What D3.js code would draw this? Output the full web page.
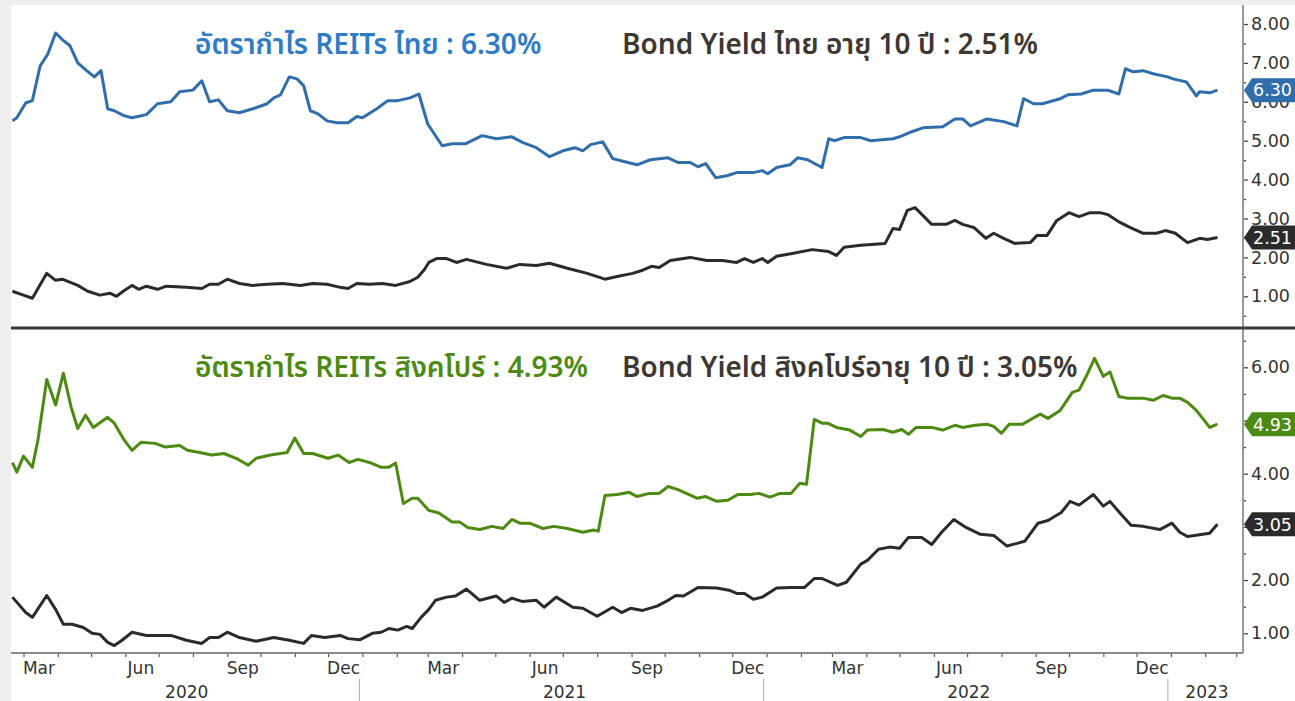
<!DOCTYPE html>
<html>
<head>
<meta charset="utf-8">
<script src="https://cdn.jsdelivr.net/npm/d3@7"></script>
<style>
  body { margin: 0; background: #eeeeee; }
  svg { display: block; }
</style>
</head>
<body>
<svg id="chart" width="1295" height="701"></svg>
<script>
// อัตรากำไร REITs ไทย (%)
const thaiReit = [
  ["2020-02-20",5.51],["2020-02-24",5.59],["2020-03-03",5.97],["2020-03-09",6.03],["2020-03-16",6.92],
  ["2020-03-23",7.23],["2020-03-30",7.77],["2020-04-05",7.60],["2020-04-12",7.44],["2020-04-19",7.00],
  ["2020-04-27",6.80],["2020-05-04",6.64],["2020-05-10",6.80],["2020-05-16",5.82],["2020-05-22",5.77],
  ["2020-05-31",5.64],["2020-06-07",5.59],["2020-06-20",5.67],["2020-06-30",5.95],["2020-07-12",6.00],
  ["2020-07-20",6.26],["2020-08-01",6.30],["2020-08-09",6.54],["2020-08-16",6.00],["2020-08-24",6.05],
  ["2020-09-01",5.77],["2020-09-12",5.72],["2020-09-24",5.82],["2020-10-07",5.95],["2020-10-13",6.10],
  ["2020-10-19",6.18],["2020-10-27",6.64],["2020-11-03",6.59],["2020-11-09",6.41],["2020-11-15",5.77],
  ["2020-11-22",5.69],["2020-11-30",5.51],["2020-12-09",5.46],["2020-12-19",5.46],["2020-12-27",5.62],
  ["2021-01-01",5.59],["2021-01-14",5.82],["2021-01-24",6.03],["2021-02-02",6.03],["2021-02-13",6.10],
  ["2021-02-21",6.20],["2021-03-01",5.43],["2021-03-14",4.87],["2021-03-23",4.92],["2021-04-04",4.92],
  ["2021-04-19",5.13],["2021-05-02",5.05],["2021-05-16",5.10],["2021-05-26",4.95],["2021-06-07",4.82],
  ["2021-06-19",4.59],["2021-07-01",4.74],["2021-07-12",4.82],["2021-07-19",4.74],["2021-07-26",4.90],
  ["2021-08-06",4.97],["2021-08-15",4.54],["2021-08-26",4.46],["2021-09-06",4.38],["2021-09-18",4.51],
  ["2021-10-04",4.56],["2021-10-13",4.44],["2021-10-24",4.44],["2021-10-31",4.33],["2021-11-07",4.41],
  ["2021-11-16",4.05],["2021-11-26",4.10],["2021-12-05",4.18],["2021-12-20",4.18],["2021-12-28",4.23],
  ["2022-01-02",4.15],["2022-01-10",4.31],["2022-01-22",4.38],["2022-01-29",4.56],["2022-02-07",4.51],
  ["2022-02-20",4.31],["2022-02-26",5.05],["2022-03-03",5.00],["2022-03-12",5.08],["2022-03-27",5.08],
  ["2022-04-05",5.00],["2022-04-25",5.05],["2022-05-01",5.10],["2022-05-10",5.21],["2022-05-22",5.33],
  ["2022-06-09",5.36],["2022-06-20",5.56],["2022-06-27",5.56],["2022-07-04",5.38],["2022-07-19",5.56],
  ["2022-08-03",5.49],["2022-08-15",5.38],["2022-08-21",6.08],["2022-08-30",5.95],["2022-09-07",5.95],
  ["2022-09-23",6.08],["2022-09-30",6.18],["2022-10-12",6.20],["2022-10-23",6.30],["2022-11-05",6.30],
  ["2022-11-15",6.20],["2022-11-21",6.85],["2022-11-28",6.77],["2022-12-07",6.80],["2022-12-16",6.72],
  ["2022-12-29",6.64],["2023-01-03",6.59],["2023-01-15",6.51],["2023-01-24",6.15],["2023-01-27",6.26],
  ["2023-02-05",6.23],["2023-02-12",6.30]
];

// Bond Yield ไทย อายุ 10 ปี (%)
const thaiBond = [
  ["2020-02-20",1.13],["2020-03-01",1.03],["2020-03-09",0.95],["2020-03-22",1.59],["2020-03-30",1.41],
  ["2020-04-05",1.44],["2020-04-19",1.28],["2020-04-28",1.13],["2020-05-09",1.03],["2020-05-18",1.08],
  ["2020-05-24",1.00],["2020-05-31",1.15],["2020-06-07",1.28],["2020-06-13",1.18],["2020-06-20",1.26],
  ["2020-06-30",1.18],["2020-07-08",1.26],["2020-07-26",1.23],["2020-08-09",1.20],["2020-08-16",1.31],
  ["2020-08-24",1.31],["2020-09-01",1.44],["2020-09-12",1.33],["2020-09-24",1.28],["2020-10-07",1.31],
  ["2020-10-21",1.33],["2020-11-06",1.28],["2020-11-17",1.33],["2020-11-30",1.31],["2020-12-12",1.23],
  ["2020-12-19",1.20],["2020-12-27",1.33],["2021-01-07",1.31],["2021-01-19",1.33],["2021-01-31",1.28],
  ["2021-02-13",1.38],["2021-02-20",1.49],["2021-02-26",1.69],["2021-03-02",1.87],["2021-03-09",1.97],
  ["2021-03-18",1.97],["2021-03-27",1.87],["2021-04-05",1.95],["2021-04-23",1.82],["2021-05-11",1.72],
  ["2021-05-23",1.82],["2021-06-07",1.79],["2021-06-19",1.85],["2021-07-05",1.72],["2021-07-23",1.59],
  ["2021-08-08",1.44],["2021-08-19",1.51],["2021-09-02",1.59],["2021-09-11",1.67],["2021-09-19",1.77],
  ["2021-09-26",1.74],["2021-10-06",1.92],["2021-10-24",2.00],["2021-11-08",1.92],["2021-11-22",1.92],
  ["2021-12-05",1.87],["2021-12-12",1.97],["2021-12-20",1.87],["2021-12-28",1.97],["2022-01-02",1.87],
  ["2022-01-10",2.03],["2022-01-24",2.10],["2022-02-11",2.20],["2022-02-26",2.15],["2022-03-05",2.05],
  ["2022-03-12",2.26],["2022-03-27",2.31],["2022-04-18",2.36],["2022-04-25",2.74],["2022-05-01",2.72],
  ["2022-05-08",3.21],["2022-05-15",3.28],["2022-05-22",3.08],["2022-05-30",2.85],["2022-06-12",2.85],
  ["2022-06-20",2.95],["2022-06-27",2.85],["2022-07-07",2.77],["2022-07-18",2.49],["2022-07-25",2.62],
  ["2022-08-03",2.49],["2022-08-13",2.36],["2022-08-27",2.38],["2022-09-02",2.56],["2022-09-11",2.56],
  ["2022-09-20",2.95],["2022-10-01",3.15],["2022-10-10",3.05],["2022-10-20",3.15],["2022-10-29",3.15],
  ["2022-11-05",3.10],["2022-11-16",2.90],["2022-11-25",2.77],["2022-12-07",2.62],["2022-12-19",2.62],
  ["2022-12-27",2.69],["2023-01-05",2.62],["2023-01-16",2.38],["2023-01-27",2.49],["2023-02-03",2.46],
  ["2023-02-12",2.51]
];

// อัตรากำไร REITs สิงคโปร์ (%)
const sgReit = [
  ["2020-02-20",4.21],["2020-02-24",4.03],["2020-03-01",4.33],["2020-03-09",4.12],["2020-03-14",4.63],
  ["2020-03-22",5.77],["2020-03-30",5.29],["2020-04-06",5.89],["2020-04-13",5.25],["2020-04-19",4.85],
  ["2020-04-26",5.10],["2020-05-03",4.87],["2020-05-16",5.06],["2020-05-22",4.95],["2020-05-31",4.63],
  ["2020-06-07",4.44],["2020-06-15",4.59],["2020-06-28",4.57],["2020-07-07",4.50],["2020-07-20",4.53],
  ["2020-07-27",4.44],["2020-08-07",4.40],["2020-08-18",4.35],["2020-08-29",4.38],["2020-09-09",4.29],
  ["2020-09-20",4.16],["2020-09-27",4.29],["2020-10-10",4.35],["2020-10-25",4.40],["2020-11-01",4.67],
  ["2020-11-09",4.38],["2020-11-17",4.38],["2020-12-01",4.29],["2020-12-10",4.35],["2020-12-20",4.21],
  ["2020-12-28",4.27],["2021-01-09",4.20],["2021-01-18",4.12],["2021-01-25",4.12],["2021-01-31",4.20],
  ["2021-02-07",3.44],["2021-02-15",3.54],["2021-02-20",3.54],["2021-03-02",3.31],["2021-03-11",3.26],
  ["2021-03-23",3.09],["2021-03-30",3.09],["2021-04-06",2.99],["2021-04-17",2.95],["2021-04-28",3.01],
  ["2021-05-08",2.97],["2021-05-16",3.14],["2021-05-23",3.07],["2021-06-01",3.07],["2021-06-13",2.97],
  ["2021-06-23",3.01],["2021-07-05",2.97],["2021-07-19",2.90],["2021-07-29",2.94],["2021-08-02",2.92],
  ["2021-08-08",3.59],["2021-08-19",3.61],["2021-08-30",3.65],["2021-09-06",3.57],["2021-09-17",3.63],
  ["2021-09-26",3.63],["2021-10-04",3.76],["2021-10-13",3.70],["2021-10-30",3.54],["2021-11-07",3.57],
  ["2021-11-17",3.48],["2021-11-27",3.50],["2021-12-06",3.61],["2021-12-17",3.61],["2021-12-25",3.63],
  ["2022-01-04",3.56],["2022-01-13",3.63],["2022-01-23",3.63],["2022-01-31",3.82],["2022-02-06",3.80],
  ["2022-02-13",5.02],["2022-02-20",4.95],["2022-02-25",4.95],["2022-03-05",4.87],["2022-03-17",4.82],
  ["2022-03-27",4.70],["2022-04-02",4.82],["2022-04-16",4.83],["2022-04-25",4.78],["2022-05-03",4.83],
  ["2022-05-09",4.74],["2022-05-16",4.87],["2022-05-30",4.87],["2022-06-09",4.82],["2022-06-20",4.91],
  ["2022-06-27",4.87],["2022-07-08",4.91],["2022-07-19",4.93],["2022-07-25",4.89],["2022-08-01",4.76],
  ["2022-08-08",4.93],["2022-08-20",4.93],["2022-09-05",5.12],["2022-09-12",5.04],["2022-09-23",5.19],
  ["2022-10-04",5.53],["2022-10-10",5.57],["2022-10-17",5.85],["2022-10-24",6.17],["2022-11-01",5.83],
  ["2022-11-07",5.91],["2022-11-15",5.45],["2022-11-23",5.42],["2022-12-07",5.42],["2022-12-16",5.38],
  ["2022-12-25",5.47],["2023-01-02",5.42],["2023-01-09",5.42],["2023-01-16",5.34],["2023-01-24",5.19],
  ["2023-02-05",4.87],["2023-02-12",4.93]
];

// Bond Yield สิงคโปร์อายุ 10 ปี (%)
const sgBond = [
  ["2020-02-20",1.68],["2020-03-03",1.39],["2020-03-09",1.30],["2020-03-22",1.71],["2020-03-30",1.45],
  ["2020-04-06",1.17],["2020-04-14",1.17],["2020-04-24",1.11],["2020-05-02",1.00],["2020-05-09",0.98],
  ["2020-05-16",0.83],["2020-05-22",0.77],["2020-05-29",0.87],["2020-06-07",1.02],["2020-06-20",0.96],
  ["2020-07-12",0.96],["2020-07-26",0.87],["2020-08-09",0.81],["2020-08-16",0.92],["2020-08-24",0.92],
  ["2020-09-01",1.02],["2020-09-12",0.92],["2020-09-27",0.85],["2020-10-13",0.92],["2020-10-27",0.87],
  ["2020-11-09",0.81],["2020-11-16",0.96],["2020-11-28",0.92],["2020-12-12",0.96],["2020-12-19",0.90],
  ["2020-12-30",0.88],["2021-01-10",1.00],["2021-01-18",1.02],["2021-01-25",1.09],["2021-02-02",1.06],
  ["2021-02-10",1.13],["2021-02-15",1.09],["2021-02-23",1.30],["2021-03-02",1.45],["2021-03-08",1.62],
  ["2021-03-18",1.68],["2021-03-26",1.70],["2021-04-05",1.83],["2021-04-17",1.62],["2021-05-02",1.70],
  ["2021-05-09",1.58],["2021-05-16",1.66],["2021-05-25",1.60],["2021-06-07",1.62],["2021-06-14",1.49],
  ["2021-06-25",1.68],["2021-07-10",1.49],["2021-07-19",1.47],["2021-08-01",1.32],["2021-08-15",1.49],
  ["2021-08-23",1.39],["2021-08-31",1.47],["2021-09-11",1.43],["2021-09-24",1.51],["2021-10-04",1.62],
  ["2021-10-11",1.71],["2021-10-18",1.70],["2021-10-31",1.86],["2021-11-17",1.85],["2021-11-28",1.81],
  ["2021-12-05",1.75],["2021-12-12",1.75],["2021-12-20",1.64],["2021-12-28",1.68],["2022-01-10",1.85],
  ["2022-01-23",1.86],["2022-02-04",1.86],["2022-02-13",2.03],["2022-02-20",2.03],["2022-03-06",1.90],
  ["2022-03-14",1.96],["2022-03-27",2.30],["2022-04-02",2.37],["2022-04-12",2.58],["2022-04-22",2.62],
  ["2022-05-01",2.60],["2022-05-09",2.80],["2022-05-21",2.80],["2022-05-30",2.67],["2022-06-08",2.90],
  ["2022-06-19",3.14],["2022-06-30",2.99],["2022-07-13",2.86],["2022-07-25",2.84],["2022-08-06",2.64],
  ["2022-08-15",2.69],["2022-08-22",2.73],["2022-09-03",3.07],["2022-09-12",3.12],["2022-09-24",3.27],
  ["2022-10-02",3.48],["2022-10-10",3.41],["2022-10-23",3.61],["2022-11-01",3.39],["2022-11-07",3.48],
  ["2022-11-16",3.26],["2022-11-26",3.03],["2022-12-07",3.01],["2022-12-22",2.95],["2023-01-02",3.07],
  ["2023-01-09",2.90],["2023-01-16",2.82],["2023-02-05",2.88],["2023-02-12",3.05]
];

// graduations de droite (3.00 et 5.00 du bas sont cachées par les étiquettes)
const topTicks = [1, 2, 3, 4, 5, 6, 7, 8];
const topLabelled = [1, 2, 3, 4, 5, 6, 7, 8];
const bottomTicks = [1, 2, 3, 4, 5, 6];
const bottomLabelled = [1, 2, 4, 6];
const quarterMonths = [2, 5, 8, 11];          // Mar, Jun, Sep, Dec
const yearLabels = [2020, 2021, 2022, 2023];

const parse = d3.utcParse("%Y-%m-%d");
const width = 1295, height = 701;
const plotLeft = 11, plotRight = 1243;
const axisY = 653;
const numFont = "DejaVu Sans, Verdana, sans-serif";

const svg = d3.select("#chart");

// fond blanc du graphique
svg.append("rect")
    .attr("x", plotLeft).attr("y", 5)
    .attr("width", width - plotLeft).attr("height", height - 5)
    .attr("fill", "#ffffff");

const x = d3.scaleUtc()
    .domain([parse("2021-01-01"), parse("2023-01-01")])
    .range([362.4, 1170.9]);

const panels = [
    {
        id: "top", y0: 5, y1: 326, ticks: topTicks, labelled: topLabelled,
        y: d3.scaleLinear().domain([1, 8]).range([296.3, 24]),
        series: [
            {data: thaiReit, color: "#2f6eab"},
            {data: thaiBond, color: "#2b2b2b"}
        ],
        titles: [
            {x: 195, text: v => `อัตรากำไร REITs ไทย : ${v[0]}%`, color: "#2f7cc6"},
            {x: 622, text: v => `Bond Yield ไทย อายุ 10 ปี : ${v[1]}%`, color: "#3d3833"}
        ],
        titleY: 54
    },
    {
        id: "bottom", y0: 330, y1: axisY, ticks: bottomTicks, labelled: bottomLabelled,
        y: d3.scaleLinear().domain([1, 6]).range([633.3, 367.3]),
        series: [
            {data: sgReit, color: "#4d8a12"},
            {data: sgBond, color: "#2b2b2b"}
        ],
        titles: [
            {x: 195, text: v => `อัตรากำไร REITs สิงคโปร์ : ${v[0]}%`, color: "#4d8a12"},
            {x: 622, text: v => `Bond Yield สิงคโปร์อายุ 10 ปี : ${v[1]}%`, color: "#3d3833"}
        ],
        titleY: 377
    }
];

const fmt = d3.format(".2f");

panels.forEach(p => {
    svg.append("clipPath").attr("id", `clip-${p.id}`)
        .append("rect")
        .attr("x", plotLeft).attr("y", p.y0)
        .attr("width", plotRight - plotLeft).attr("height", p.y1 - p.y0);

    // axe de droite : graduations principales + secondaires
    const minor = d3.range(0.5, p.y.domain()[1] + 0.6, 1).filter(v => p.y(v) > p.y0 && p.y(v) < p.y1);
    const gMinor = svg.append("g")
        .attr("transform", `translate(${plotRight},0)`)
        .call(d3.axisRight(p.y).tickValues(minor).tickSize(3).tickFormat(""));
    const gMajor = svg.append("g")
        .attr("transform", `translate(${plotRight},0)`)
        .call(d3.axisRight(p.y).tickValues(p.ticks).tickSize(5).tickPadding(3)
            .tickFormat(v => p.labelled.includes(v) ? fmt(v) : ""));
    [gMinor, gMajor].forEach(g => {
        g.select(".domain").remove();
        g.selectAll("line").attr("stroke", "#444").attr("stroke-width", 1.3);
    });
    gMajor.selectAll("text")
        .attr("font-family", numFont)
        .attr("font-size", 17.5)
        .attr("fill", "#333");

    const line = d3.line()
        .x(d => x(parse(d[0])))
        .y(d => p.y(d[1]));

    const g = svg.append("g").attr("clip-path", `url(#clip-${p.id})`);
    p.series.slice().reverse().forEach(s => {
        g.append("path")
            .datum(s.data)
            .attr("fill", "none")
            .attr("stroke", s.color)
            .attr("stroke-width", 3)
            .attr("stroke-linejoin", "round")
            .attr("d", line);
    });

    // étiquettes de dernière valeur
    const lastValues = p.series.map(s => fmt(s.data[s.data.length - 1][1]));
    p.series.forEach((s, i) => {
        const flag = svg.append("g")
            .attr("transform", `translate(${plotRight + 1},${p.y(+lastValues[i])})`);
        flag.append("path")
            .attr("d", "M0,0L8,-12L60,-12L60,12L8,12Z")
            .attr("fill", s.color);
        flag.append("text")
            .attr("x", 9).attr("dy", "0.36em")
            .attr("font-family", numFont)
            .attr("font-size", 17.5)
            .attr("fill", "#ffffff")
            .text(lastValues[i]);
    });

    p.titles.forEach(t => {
        svg.append("text")
            .attr("x", t.x).attr("y", p.titleY)
            .attr("font-family", "'Noto Sans Thai', 'Noto Sans', 'DejaVu Sans', sans-serif")
            .attr("font-size", 28)
            .attr("font-weight", 600)
            .attr("fill", t.color)
            .text(t.text(lastValues));
    });
});

// axe vertical de droite
svg.append("line")
    .attr("x1", plotRight).attr("x2", plotRight)
    .attr("y1", 5).attr("y2", axisY)
    .attr("stroke", "#9a9a9a").attr("stroke-width", 2);

// séparateur entre les deux panneaux
svg.append("line")
    .attr("x1", plotLeft).attr("x2", width)
    .attr("y1", 328).attr("y2", 328)
    .attr("stroke", "#3a3a3a").attr("stroke-width", 3);

// axe des x
const gx = svg.append("g")
    .attr("transform", `translate(0,${axisY})`)
    .call(d3.axisBottom(x)
        .tickValues(d3.utcMonth.range(x.invert(plotLeft), x.invert(plotRight)))
        .tickSize(4).tickFormat(""));
gx.select(".domain").remove();
gx.selectAll("line").attr("stroke", "#555").attr("stroke-width", 1.2);

svg.append("line")
    .attr("x1", plotLeft).attr("x2", plotRight)
    .attr("y1", axisY).attr("y2", axisY)
    .attr("stroke", "#8a8a8a").attr("stroke-width", 2);

const monthFmt = d3.utcFormat("%b");
yearLabels.forEach(yr => {
    quarterMonths.forEach(m => {
        const d = new Date(Date.UTC(yr, m, 15));
        const px = x(d);
        if (px < plotLeft || px > plotRight) return;
        svg.append("text")
            .attr("x", px).attr("y", 674)
            .attr("text-anchor", "middle")
            .attr("font-family", numFont)
            .attr("font-size", 17)
            .attr("fill", "#333")
            .text(monthFmt(d));
    });
    const a = Math.max(plotLeft, x(new Date(Date.UTC(yr, 0, 1))));
    const b = Math.min(plotRight, x(new Date(Date.UTC(yr + 1, 0, 1))));
    svg.append("text")
        .attr("x", (a + b) / 2).attr("y", 698)
        .attr("text-anchor", "middle")
        .attr("font-family", numFont)
        .attr("font-size", 17)
        .attr("fill", "#333")
        .text(yr);
    if (yr > 2020) {
        svg.append("line")
            .attr("x1", a - 3).attr("x2", a - 3)
            .attr("y1", 679).attr("y2", height)
            .attr("stroke", "#aaa").attr("stroke-width", 1);
    }
});
</script>
</body>
</html>
